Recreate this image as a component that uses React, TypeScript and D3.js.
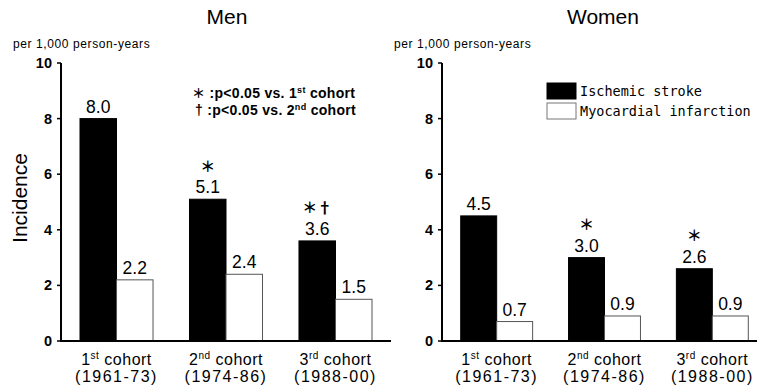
import React from "react";
import * as d3 from "d3";

const cohorts = ["1st", "2nd", "3rd"];
const cohortSup = ["st", "nd", "rd"];
const cohortNum = ["1", "2", "3"];
const cohortYears = ["(1961-73)", "(1974-86)", "(1988-00)"];
const seriesKeys = ["Ischemic stroke", "Myocardial infarction"];
const menStroke = [8.0, 5.1, 3.6];
const menMI = [2.2, 2.4, 1.5];
const womenStroke = [4.5, 3.0, 2.6];
const womenMI = [0.7, 0.9, 0.9];
const menMarks = ["", "＊", "＊†"];
const womenMarks = ["", "＊", "＊"];
const yTicks = [0, 2, 4, 6, 8, 10];

const W = 757;
const H = 389;
const yScale = d3.scaleLinear().domain([0, 10]).range([341, 63]);
const sans = "Liberation Sans, Arial, sans-serif";
const cjk = "Noto Sans CJK JP, Liberation Sans, sans-serif";

function Panel({ title, axisX, width, stroke, mi, marks, titleX }) {
  const x0 = d3
    .scaleBand()
    .domain(cohorts)
    .range([axisX, axisX + width])
    .paddingInner(0.333)
    .paddingOuter(0.1735);
  const x1 = d3.scaleBand().domain(seriesKeys).range([0, x0.bandwidth()]);
  const base = yScale(0);
  return (
    <g>
      <text x={titleX} y={24} textAnchor="middle" fontFamily={sans} fontSize={21}>
        {title}
      </text>
      <text x={axisX - 48} y={48} fontFamily={sans} fontSize={12} letterSpacing={0.6}>
        per 1,000 person-years
      </text>
      {cohorts.map((c, i) => {
        const gx = x0(c)!;
        const vals = [stroke[i], mi[i]];
        return (
          <g key={c}>
            {seriesKeys.map((k, j) => (
              <rect
                key={k}
                x={gx + x1(k)!}
                y={yScale(vals[j])}
                width={x1.bandwidth()}
                height={base - yScale(vals[j])}
                fill={j === 0 ? "#000" : "#fff"}
                stroke={j === 0 ? "#000" : "#555"}
                strokeWidth={1}
              />
            ))}
            {seriesKeys.map((k, j) => (
              <text
                key={k + "l"}
                x={gx + x1(k)! + x1.bandwidth() / 2}
                y={yScale(vals[j]) - 6}
                textAnchor="middle"
                fontFamily={sans}
                fontSize={17.5}
              >
                {vals[j].toFixed(1)}
              </text>
            ))}
            {marks[i] && (
              <text
                x={gx + x1.bandwidth() / 2}
                y={yScale(vals[0]) - 34}
                textAnchor="middle"
                dominantBaseline="central"
                fontFamily={cjk}
                fontSize={15}
                fontWeight="bold"
              >
                {marks[i]}
              </text>
            )}
            <text
              x={gx + x0.bandwidth() / 2}
              y={365}
              textAnchor="middle"
              fontFamily={sans}
              fontSize={16}
              letterSpacing={0.5}
            >
              {cohortNum[i]}
              <tspan fontSize={10} dy={-6}>
                {cohortSup[i]}
              </tspan>
              <tspan dy={6}> cohort</tspan>
            </text>
            <text
              x={gx + x0.bandwidth() / 2}
              y={382}
              textAnchor="middle"
              fontFamily={sans}
              fontSize={16}
              letterSpacing={1.5}
            >
              {cohortYears[i]}
            </text>
          </g>
        );
      })}
      <line x1={axisX} x2={axisX} y1={yScale(10)} y2={base} stroke="#000" strokeWidth={2} />
      <line
        x1={axisX - 1}
        x2={Math.min(axisX + width, W)}
        y1={base}
        y2={base}
        stroke="#000"
        strokeWidth={2}
      />
      {yTicks.map((t) => (
        <g key={t}>
          <line x1={axisX - 4} x2={axisX} y1={yScale(t)} y2={yScale(t)} stroke="#000" strokeWidth={1.5} />
          <text
            x={axisX - 9}
            y={yScale(t) + 5}
            textAnchor="end"
            fontFamily={sans}
            fontSize={14.5}
            fontWeight="bold"
          >
            {t}
          </text>
        </g>
      ))}
    </g>
  );
}

export default function App() {
  return (
    <svg width={W} height={H} style={{ position: "absolute", left: 0, top: 0 }}>
      <rect width={W} height={H} fill="#fff" />
      <text
        transform={`translate(27,198) rotate(-90)`}
        textAnchor="middle"
        fontFamily={sans}
        fontSize={21}
      >
        Incidence
      </text>
      <Panel title="Men" axisX={61} width={330} stroke={menStroke} mi={menMI} marks={menMarks} titleX={227} />
      <Panel
        title="Women"
        axisX={442}
        width={325}
        stroke={womenStroke}
        mi={womenMI}
        marks={womenMarks}
        titleX={603}
      />
      <g fontFamily={sans} fontSize={14} fontWeight="bold" letterSpacing={0.3}>
        <text x={192} y={98}>
          <tspan fontFamily={cjk} fontSize={13}>＊</tspan> :p&lt;0.05 vs. 1<tspan fontSize={9} dy={-5}>st</tspan>
          <tspan dy={5}> cohort</tspan>
        </text>
        <text x={195} y={115}>
          †  :p&lt;0.05 vs. 2<tspan fontSize={9} dy={-5}>nd</tspan>
          <tspan dy={5}> cohort</tspan>
        </text>
      </g>
      {seriesKeys.map((k, j) => (
        <g key={k}>
          <rect
            x={547}
            y={83 + j * 20}
            width={29}
            height={16}
            fill={j === 0 ? "#000" : "#fff"}
            stroke={j === 0 ? "#000" : "#777"}
          />
          <text x={580} y={96 + j * 20} fontFamily="DejaVu Sans Mono, Liberation Mono, monospace" fontSize={13.5}>
            {k}
          </text>
        </g>
      ))}
    </svg>
  );
}
